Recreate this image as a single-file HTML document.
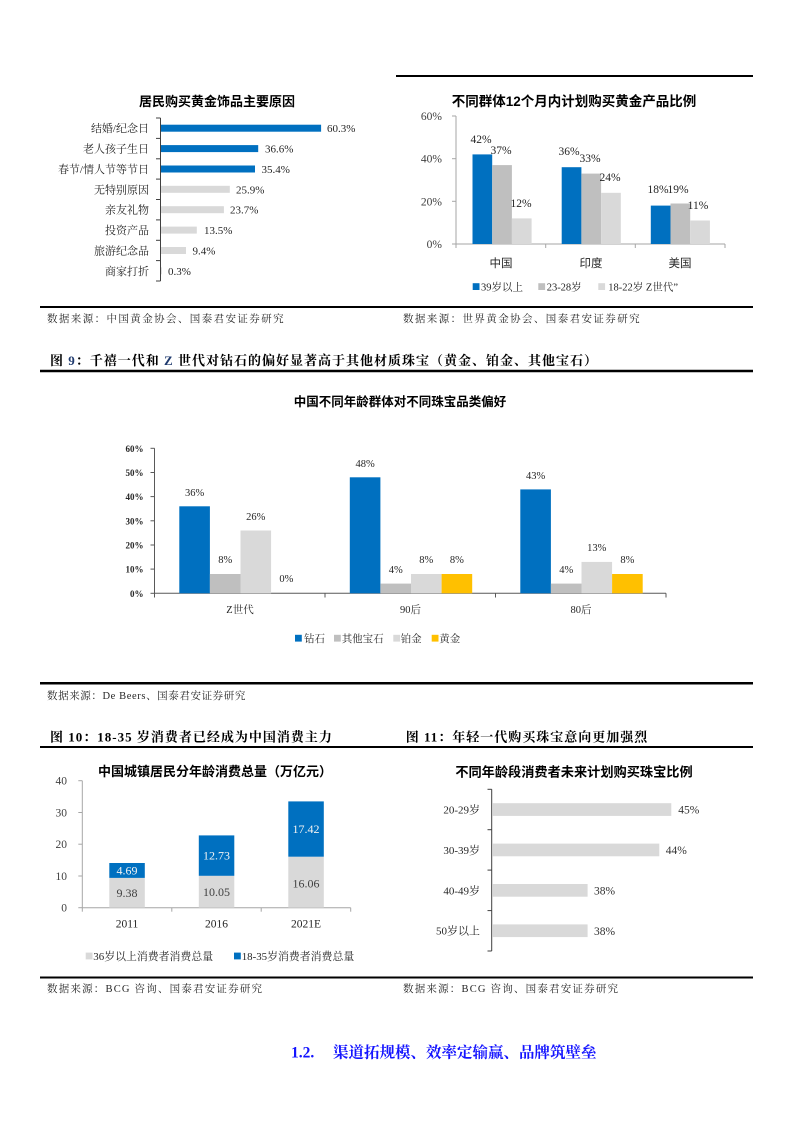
<!DOCTYPE html>
<html><head><meta charset="utf-8">
<style>
html,body{margin:0;padding:0;background:#fff;}
svg{display:block;}
.s{font-family:"Liberation Serif","Noto Serif CJK SC",serif;}
.h{font-family:"Liberation Sans","Noto Sans CJK SC",sans-serif;}
</style></head>
<body>
<svg width="793" height="1122" viewBox="0 0 793 1122" xmlns="http://www.w3.org/2000/svg">
<rect width="793" height="1122" fill="#fff"/>

<!-- ============ TOP LEFT ============ -->
<line x1="396" y1="76" x2="753" y2="76" stroke="#000" stroke-width="2"/>
<text x="217" y="106" class="h" font-size="13" font-weight="bold" text-anchor="middle" fill="#000">居民购买黄金饰品主要原因</text>
<line x1="160.5" y1="118" x2="160.5" y2="281" stroke="#404040" stroke-width="1"/>
<g stroke="#404040" stroke-width="1">
<line x1="156" y1="118" x2="160.5" y2="118"/><line x1="156" y1="138.4" x2="160.5" y2="138.4"/>
<line x1="156" y1="158.8" x2="160.5" y2="158.8"/><line x1="156" y1="179.1" x2="160.5" y2="179.1"/>
<line x1="156" y1="199.5" x2="160.5" y2="199.5"/><line x1="156" y1="219.9" x2="160.5" y2="219.9"/>
<line x1="156" y1="240.3" x2="160.5" y2="240.3"/><line x1="156" y1="260.6" x2="160.5" y2="260.6"/>
<line x1="156" y1="281" x2="160.5" y2="281"/>
</g>
<g>
<rect x="161" y="124.7" width="160.1" height="7" fill="#0070c0"/>
<rect x="161" y="145.1" width="97.2" height="7" fill="#0070c0"/>
<rect x="161" y="165.5" width="94" height="7" fill="#0070c0"/>
<rect x="161" y="185.8" width="68.8" height="7" fill="#d9d9d9"/>
<rect x="161" y="206.2" width="62.9" height="7" fill="#d9d9d9"/>
<rect x="161" y="226.6" width="35.8" height="7" fill="#d9d9d9"/>
<rect x="161" y="247" width="25" height="7" fill="#d9d9d9"/>
<rect x="161" y="267.3" width="0.8" height="7" fill="#d9d9d9"/>
</g>
<g class="s" font-size="11" fill="#262626" text-anchor="end">
<text x="149" y="132.2">结婚/纪念日</text>
<text x="149" y="152.6">老人孩子生日</text>
<text x="149" y="173">春节/情人节等节日</text>
<text x="149" y="193.3">无特别原因</text>
<text x="149" y="213.7">亲友礼物</text>
<text x="149" y="234.1">投资产品</text>
<text x="149" y="254.5">旅游纪念品</text>
<text x="149" y="274.8">商家打折</text>
</g>
<g class="s" font-size="11" fill="#262626">
<text x="327" y="132.2">60.3%</text>
<text x="265" y="152.6">36.6%</text>
<text x="261.5" y="173">35.4%</text>
<text x="236" y="193.3">25.9%</text>
<text x="230" y="213.7">23.7%</text>
<text x="204" y="234.1">13.5%</text>
<text x="192.5" y="254.5">9.4%</text>
<text x="168" y="274.8">0.3%</text>
</g>

<!-- ============ TOP RIGHT ============ -->
<text x="574" y="106" class="h" font-size="13.5" font-weight="bold" text-anchor="middle" fill="#000">不同群体12个月内计划购买黄金产品比例</text>
<g stroke="#a6a6a6" stroke-width="1">
<line x1="456" y1="116" x2="456" y2="244"/>
<line x1="452" y1="116" x2="456" y2="116"/><line x1="452" y1="158.7" x2="456" y2="158.7"/>
<line x1="452" y1="201.3" x2="456" y2="201.3"/><line x1="452" y1="244" x2="456" y2="244"/>
<line x1="456" y1="244" x2="725" y2="244"/>
<line x1="456" y1="244" x2="456" y2="248"/><line x1="545.7" y1="244" x2="545.7" y2="248"/>
<line x1="635.3" y1="244" x2="635.3" y2="248"/><line x1="725" y1="244" x2="725" y2="248"/>
</g>
<g class="s" font-size="11.5" fill="#404040" text-anchor="end">
<text x="442" y="120">60%</text><text x="442" y="162.7">40%</text>
<text x="442" y="205.3">20%</text><text x="442" y="248">0%</text>
</g>
<g>
<rect x="472.5" y="154.4" width="19.7" height="89.6" fill="#0070c0"/>
<rect x="492.2" y="165.1" width="19.7" height="78.9" fill="#bfbfbf"/>
<rect x="511.9" y="218.4" width="19.7" height="25.6" fill="#d9d9d9"/>
<rect x="561.7" y="167.2" width="19.7" height="76.8" fill="#0070c0"/>
<rect x="581.4" y="173.6" width="19.7" height="70.4" fill="#bfbfbf"/>
<rect x="601.1" y="192.8" width="19.7" height="51.2" fill="#d9d9d9"/>
<rect x="650.8" y="205.6" width="19.7" height="38.4" fill="#0070c0"/>
<rect x="670.5" y="203.5" width="19.7" height="40.5" fill="#bfbfbf"/>
<rect x="690.2" y="220.5" width="19.7" height="23.5" fill="#d9d9d9"/>
</g>
<g class="s" font-size="11.5" fill="#262626" text-anchor="middle">
<text x="481" y="143">42%</text><text x="501" y="154">37%</text><text x="521" y="207">12%</text>
<text x="569" y="155">36%</text><text x="590" y="162">33%</text><text x="610" y="181">24%</text>
<text x="658" y="193">18%</text><text x="678" y="193">19%</text><text x="698" y="209">11%</text>
</g>
<g class="h" font-size="11.5" fill="#262626" text-anchor="middle">
<text x="501" y="267">中国</text><text x="591" y="267">印度</text><text x="680" y="267">美国</text>
</g>
<rect x="472.7" y="283.2" width="6.8" height="6.8" fill="#0070c0"/>
<rect x="538.3" y="283.2" width="6.8" height="6.8" fill="#bfbfbf"/>
<rect x="598.3" y="283.2" width="6.8" height="6.8" fill="#d9d9d9"/>
<g class="s" font-size="10.5" fill="#262626">
<text x="481" y="290.5">39岁以上</text>
<text x="546.7" y="290.5">23-28岁</text>
<text x="608.3" y="290.5">18-22岁 Z世代”</text>
</g>

<!-- source row 1 -->
<line x1="40" y1="307" x2="753" y2="307" stroke="#000" stroke-width="2"/>
<g class="s" font-size="10.5" fill="#262626" letter-spacing="1.4">
<text x="47" y="322">数据来源：中国黄金协会、国泰君安证券研究</text>
<text x="403" y="322">数据来源：世界黄金协会、国泰君安证券研究</text>
</g>

<!-- ============ FIG 9 ============ -->
<text x="50" y="365" class="s" font-size="13" font-weight="bold" fill="#000" letter-spacing="1">图 <tspan fill="#1f3a6e">9</tspan>：千禧一代和 <tspan fill="#1f3a6e">Z</tspan> 世代对钻石的偏好显著高于其他材质珠宝（黄金、铂金、其他宝石）</text>
<line x1="40" y1="371" x2="753" y2="371" stroke="#000" stroke-width="2.5"/>
<text x="400" y="406" class="h" font-size="12.5" font-weight="bold" text-anchor="middle" fill="#000">中国不同年龄群体对不同珠宝品类偏好</text>
<g stroke="#595959" stroke-width="1">
<line x1="154.5" y1="448.3" x2="154.5" y2="593.3"/>
<line x1="150.5" y1="448.3" x2="154.5" y2="448.3"/><line x1="150.5" y1="472.5" x2="154.5" y2="472.5"/>
<line x1="150.5" y1="496.6" x2="154.5" y2="496.6"/><line x1="150.5" y1="520.8" x2="154.5" y2="520.8"/>
<line x1="150.5" y1="545" x2="154.5" y2="545"/><line x1="150.5" y1="569.1" x2="154.5" y2="569.1"/>
<line x1="150.5" y1="593.3" x2="154.5" y2="593.3"/>
<line x1="154.5" y1="593.3" x2="666" y2="593.3"/>
<line x1="154.5" y1="593.3" x2="154.5" y2="597.5"/><line x1="325" y1="593.3" x2="325" y2="597.5"/>
<line x1="495.5" y1="593.3" x2="495.5" y2="597.5"/><line x1="666" y1="593.3" x2="666" y2="597.5"/>
</g>
<g class="s" font-size="9" font-weight="bold" fill="#262626" text-anchor="end">
<text x="143.5" y="451.8">60%</text><text x="143.5" y="476">50%</text><text x="143.5" y="500.1">40%</text>
<text x="143.5" y="524.3">30%</text><text x="143.5" y="548.5">20%</text><text x="143.5" y="572.6">10%</text>
<text x="143.5" y="596.8">0%</text>
</g>
<g>
<rect x="179.3" y="506.3" width="30.6" height="87" fill="#0070c0"/>
<rect x="209.9" y="574" width="30.6" height="19.3" fill="#bfbfbf"/>
<rect x="240.5" y="530.5" width="30.6" height="62.8" fill="#d9d9d9"/>
<rect x="349.8" y="477.3" width="30.6" height="116" fill="#0070c0"/>
<rect x="380.4" y="583.6" width="30.6" height="9.7" fill="#bfbfbf"/>
<rect x="411" y="574" width="30.6" height="19.3" fill="#d9d9d9"/>
<rect x="441.6" y="574" width="30.6" height="19.3" fill="#ffc000"/>
<rect x="520.3" y="489.4" width="30.6" height="103.9" fill="#0070c0"/>
<rect x="550.9" y="583.6" width="30.6" height="9.7" fill="#bfbfbf"/>
<rect x="581.5" y="561.9" width="30.6" height="31.4" fill="#d9d9d9"/>
<rect x="612.1" y="574" width="30.6" height="19.3" fill="#ffc000"/>
</g>
<g class="s" font-size="10.5" fill="#262626" text-anchor="middle">
<text x="194.6" y="496">36%</text><text x="225.2" y="563">8%</text><text x="255.8" y="520">26%</text><text x="286.4" y="582">0%</text>
<text x="365.1" y="467">48%</text><text x="395.7" y="573">4%</text><text x="426.3" y="563">8%</text><text x="456.9" y="563">8%</text>
<text x="535.6" y="479">43%</text><text x="566.2" y="573">4%</text><text x="596.8" y="551">13%</text><text x="627.4" y="563">8%</text>
</g>
<g class="s" font-size="10.5" fill="#262626" text-anchor="middle">
<text x="240" y="613">Z世代</text><text x="410.5" y="613">90后</text><text x="581" y="613">80后</text>
</g>
<rect x="295" y="634.8" width="6.8" height="6.8" fill="#0070c0"/>
<rect x="334" y="634.8" width="6.8" height="6.8" fill="#bfbfbf"/>
<rect x="393.3" y="634.8" width="6.8" height="6.8" fill="#d9d9d9"/>
<rect x="431.7" y="634.8" width="6.8" height="6.8" fill="#ffc000"/>
<g class="s" font-size="10.5" fill="#262626">
<text x="304" y="642">钻石</text><text x="341.7" y="642">其他宝石</text>
<text x="400.7" y="642">铂金</text><text x="439.3" y="642">黄金</text>
</g>
<line x1="40" y1="683.3" x2="753" y2="683.3" stroke="#000" stroke-width="2.5"/>
<text x="47" y="699" class="s" font-size="10.5" fill="#262626" letter-spacing="0.6">数据来源：De Beers、国泰君安证券研究</text>

<!-- ============ FIG 10 ============ -->
<text x="50" y="741.5" class="s" font-size="13" font-weight="bold" fill="#000" letter-spacing="1">图 10：18-35 岁消费者已经成为中国消费主力</text>
<text x="405.7" y="741.5" class="s" font-size="13" font-weight="bold" fill="#000" letter-spacing="1">图 11：年轻一代购买珠宝意向更加强烈</text>
<line x1="40" y1="747" x2="753" y2="747" stroke="#000" stroke-width="2"/>

<text x="215" y="776" class="h" font-size="13" font-weight="bold" text-anchor="middle" fill="#000">中国城镇居民分年龄消费总量（万亿元）</text>
<g stroke="#a6a6a6" stroke-width="1">
<line x1="82.3" y1="780.7" x2="82.3" y2="907.7"/>
<line x1="78.3" y1="780.7" x2="82.3" y2="780.7"/><line x1="78.3" y1="812.5" x2="82.3" y2="812.5"/>
<line x1="78.3" y1="844.2" x2="82.3" y2="844.2"/><line x1="78.3" y1="876" x2="82.3" y2="876"/>
<line x1="78.3" y1="907.7" x2="82.3" y2="907.7"/>
<line x1="82.3" y1="907.7" x2="350.7" y2="907.7"/>
<line x1="82.3" y1="907.7" x2="82.3" y2="911.7"/><line x1="171.8" y1="907.7" x2="171.8" y2="911.7"/>
<line x1="261.2" y1="907.7" x2="261.2" y2="911.7"/><line x1="350.7" y1="907.7" x2="350.7" y2="911.7"/>
</g>
<g class="s" font-size="11.5" fill="#404040" text-anchor="end">
<text x="67" y="784.7">40</text><text x="67" y="816.5">30</text><text x="67" y="848.2">20</text>
<text x="67" y="880">10</text><text x="67" y="911.7">0</text>
</g>
<g>
<rect x="109.3" y="877.9" width="35.5" height="29.8" fill="#d9d9d9"/>
<rect x="109.3" y="863" width="35.5" height="14.9" fill="#0070c0"/>
<rect x="198.8" y="875.8" width="35.5" height="31.9" fill="#d9d9d9"/>
<rect x="198.8" y="835.4" width="35.5" height="40.4" fill="#0070c0"/>
<rect x="288.3" y="856.7" width="35.5" height="51" fill="#d9d9d9"/>
<rect x="288.3" y="801.4" width="35.5" height="55.3" fill="#0070c0"/>
</g>
<g class="s" font-size="12" text-anchor="middle">
<text x="127" y="874.7" fill="#f2f2f2">4.69</text>
<text x="127" y="897" fill="#404040">9.38</text>
<text x="216.5" y="859.7" fill="#f2f2f2">12.73</text>
<text x="216.5" y="896" fill="#404040">10.05</text>
<text x="306" y="833" fill="#f2f2f2">17.42</text>
<text x="306" y="887.3" fill="#404040">16.06</text>
</g>
<g class="s" font-size="11.5" fill="#262626" text-anchor="middle">
<text x="127" y="927.5">2011</text><text x="216.5" y="927.5">2016</text><text x="306" y="927.5">2021E</text>
</g>
<rect x="85.7" y="952.6" width="6.8" height="6.8" fill="#d9d9d9"/>
<rect x="234" y="952.6" width="6.8" height="6.8" fill="#0070c0"/>
<g class="s" font-size="10.9" fill="#262626">
<text x="93.3" y="960">36岁以上消费者消费总量</text>
<text x="241.7" y="960">18-35岁消费者消费总量</text>
</g>

<!-- ============ FIG 11 ============ -->
<text x="574" y="776.5" class="h" font-size="13.2" font-weight="bold" text-anchor="middle" fill="#000">不同年龄段消费者未来计划购买珠宝比例</text>
<g stroke="#404040" stroke-width="1">
<line x1="491.7" y1="789.3" x2="491.7" y2="951"/>
<line x1="487.5" y1="789.3" x2="491.7" y2="789.3"/><line x1="487.5" y1="829.7" x2="491.7" y2="829.7"/>
<line x1="487.5" y1="870.1" x2="491.7" y2="870.1"/><line x1="487.5" y1="910.6" x2="491.7" y2="910.6"/>
<line x1="487.5" y1="951" x2="491.7" y2="951"/>
</g>
<g fill="#d9d9d9">
<rect x="492.2" y="803.2" width="179.1" height="12.7"/>
<rect x="492.2" y="843.6" width="167.1" height="12.7"/>
<rect x="492.2" y="884" width="95.4" height="12.7"/>
<rect x="492.2" y="924.4" width="95.4" height="12.7"/>
</g>
<g class="s" font-size="11.5" fill="#333">
<text x="678.3" y="813.7">45%</text>
<text x="665.7" y="854.1">44%</text>
<text x="594" y="894.5">38%</text>
<text x="594" y="934.9">38%</text>
</g>
<g class="s" font-size="11" fill="#262626" text-anchor="end">
<text x="480" y="813.5">20-29岁</text>
<text x="480" y="853.9">30-39岁</text>
<text x="480" y="894.3">40-49岁</text>
<text x="480" y="934.7">50岁以上</text>
</g>

<!-- source row 3 -->
<line x1="40" y1="977.5" x2="753" y2="977.5" stroke="#000" stroke-width="2"/>
<g class="s" font-size="10.5" fill="#262626" letter-spacing="1.2">
<text x="47" y="992">数据来源：BCG 咨询、国泰君安证券研究</text>
<text x="403" y="992">数据来源：BCG 咨询、国泰君安证券研究</text>
</g>

<!-- heading -->
<text x="291" y="1057.5" class="s" font-size="15.5" font-weight="bold" fill="#1414ff">1.2.<tspan x="333">渠道拓规模、效率定输赢、品牌筑壁垒</tspan></text>
</svg>
</body></html>
